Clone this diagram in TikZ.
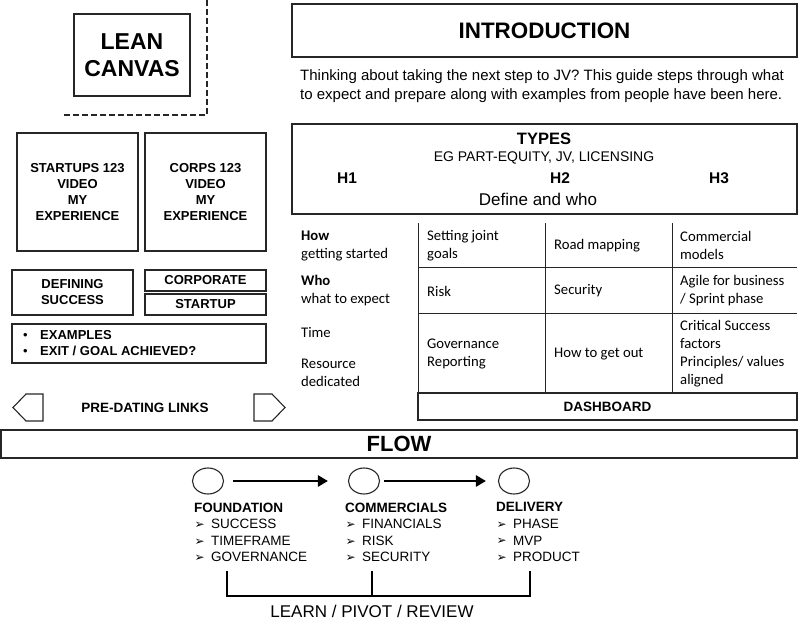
\documentclass[tikz,border=0pt]{standalone}
\usepackage{fontspec}
\setmainfont{Liberation Sans}
\newfontfamily\calfont{Carlito}
\newfontfamily\dingfont{DejaVu Sans}
\usetikzlibrary{arrows.meta,positioning,shapes.geometric}

\tikzset{
  box/.style={draw=black!85, line width=1.1pt, inner sep=0pt, align=center},
  capsbf/.style={font=\fontsize{13}{16}\selectfont\bfseries, align=center},
  cell/.style={font=\calfont\fontsize{14.7}{18}\selectfont, align=left, anchor=west, inner sep=0pt},
  flowcol/.style={font=\fontsize{13.5}{16.6}\selectfont, align=left, anchor=north west, inner sep=0pt},
  stage/.style={ellipse, draw=black!85, line width=1.1pt, minimum width=31pt, minimum height=26pt, inner sep=0pt},
  flowarrow/.style={line width=2.8pt, -{Triangle[length=10pt,width=11pt]}},
  bracket/.style={line width=2.4pt}
}
\newcommand{\arrbullet}{\makebox[17pt][l]{\hspace{0.5pt}\raisebox{0.3pt}{\dingfont\bfseries\fontsize{12}{10}\selectfont ➢}}}

\begin{document}
\begin{tikzpicture}[x=1pt, y=-1pt]
\useasboundingbox (0,0) rectangle (800,632);

% left column
\node[box, minimum width=116pt, minimum height=82pt, font=\fontsize{23}{27}\selectfont\bfseries] (lean) at (132,55) {LEAN\\CANVAS};
\draw[dash pattern=on 6pt off 3pt, line width=1.8pt, black!85] (207,0) -- (207,115) -- (64,115);

\node[box, capsbf, minimum width=121pt, minimum height=118pt] (startups) at (77.5,192) {STARTUPS 123\\VIDEO\\MY\\EXPERIENCE};
\node[box, capsbf, minimum width=121pt, minimum height=118pt] (corps) at (205.5,192) {CORPS 123\\VIDEO\\MY\\EXPERIENCE};

\node[box, capsbf, minimum width=121pt, minimum height=45pt] (defining) at (72.5,292.5) {DEFINING\\SUCCESS};
\node[box, capsbf, minimum width=121pt, minimum height=21pt] (corporate) at (205.5,280.5) {CORPORATE};
\node[box, capsbf, minimum width=121pt, minimum height=21pt] (startup) at (205.5,304.5) {STARTUP};

\node[box, minimum width=254pt, minimum height=39pt] (examples) at (139,343.5) {};
\node[capsbf, align=left, anchor=west, inner sep=0pt] (exampletext) at (23,343.5)
  {\makebox[17pt][l]{\mdseries•}EXAMPLES\\\makebox[17pt][l]{\mdseries•}EXIT / GOAL ACHIEVED?};

\draw[black!85, line width=1.1pt] (26,394) -- (43,394) -- (43,421) -- (26,421) -- (13,407.5) -- cycle;
\draw[black!85, line width=1.1pt] (254,394) -- (272,394) -- (285,407.5) -- (272,421) -- (254,421) -- cycle;
\node[capsbf, font=\fontsize{13.5}{16}\selectfont\bfseries] (predating) at (145,407.5) {PRE-DATING LINKS};

% right column
\node[box, minimum width=505pt, minimum height=53pt, font=\fontsize{22.4}{26}\selectfont\bfseries] (intro) at (544.5,30.5) {INTRODUCTION};
\node[anchor=west, align=left, inner sep=0pt, font=\fontsize{15}{19}\selectfont] (introtext) at (300,86.5)
  {Thinking about taking the next step to JV? This guide steps through what\\to expect and prepare along with examples from people have been here.};

\node[box, minimum width=505pt, minimum height=90pt] (types) at (544.5,169) {};
\node[font=\fontsize{16.5}{18}\selectfont\bfseries] (typestitle) at (544,139) {TYPES};
\node[font=\fontsize{14}{16}\selectfont] (typessub) at (544,158) {EG PART-EQUITY, JV, LICENSING};
\node[font=\fontsize{15.5}{18}\selectfont\bfseries] (h1) at (347,178.5) {H1};
\node[font=\fontsize{15.5}{18}\selectfont\bfseries] (h2) at (560,178.5) {H2};
\node[font=\fontsize{15.5}{18}\selectfont\bfseries] (h3) at (719,178.5) {H3};
\node[font=\fontsize{17}{19}\selectfont] (define) at (538,199) {Define and who};

% grid
\draw[black!85, line width=1pt] (418,223) -- (418,393);
\draw[black!85, line width=1pt] (545,223) -- (545,393);
\draw[black!85, line width=1pt] (672,223) -- (672,393);
\draw[black!85, line width=1pt] (418,267) -- (797,267);
\draw[black!85, line width=1pt] (418,313) -- (797,313);

\node[cell] (how) at (301,245.5) {\textbf{How}\\getting started};
\node[cell] (who) at (301,291) {\textbf{Who}\\what to expect};
\node[cell] (time) at (301,332) {Time};
\node[cell] (resource) at (301,373) {Resource\\dedicated};

\node[cell] (goals) at (427,245.5) {Setting joint\\goals};
\node[cell] (roadmap) at (554,245.5) {Road mapping};
\node[cell] (commercial) at (680,245.5) {Commercial\\models};
\node[cell] (risk) at (427,291) {Risk};
\node[cell] (security) at (554,291) {Security};
\node[cell] (agile) at (680,291) {Agile for business\\/ Sprint phase};
\node[cell] (governance) at (427,354) {Governance\\Reporting};
\node[cell] (getout) at (554,354) {How to get out};
\node[cell] (critical) at (680,354) {Critical Success\\factors\\Principles/ values\\aligned};

\node[box, capsbf, minimum width=379pt, minimum height=27pt, font=\fontsize{13.5}{16}\selectfont\bfseries] (dashboard) at (607.5,406.5) {DASHBOARD};

% flow
\node[box, minimum width=796pt, minimum height=28pt, font=\fontsize{22}{24}\selectfont\bfseries] (flow) at (399,444) {FLOW};

\node[stage] (s1) at (208,481) {};
\node[stage] (s2) at (364,481) {};
\node[stage] (s3) at (514,481) {};
\draw[flowarrow, shorten <=9pt, shorten >=20pt] (s1) -- (s2);
\draw[flowarrow, shorten <=4pt, shorten >=12pt] (s2) -- (s3);

\node[flowcol] (foundation) at (194,502.5) {\textbf{FOUNDATION}\\\arrbullet SUCCESS\\\arrbullet TIMEFRAME\\\arrbullet GOVERNANCE};
\node[flowcol] (commercials) at (345,502.5) {\textbf{COMMERCIALS}\\\arrbullet FINANCIALS\\\arrbullet RISK\\\arrbullet SECURITY};
\node[flowcol] (delivery) at (496,502.5) {\textbf{DELIVERY}\\\arrbullet PHASE\\\arrbullet MVP\\\arrbullet PRODUCT};

\coordinate (b1) at (227,571);
\coordinate (b2) at (372,571);
\coordinate (b3) at (530,571);
\draw[bracket] (b1) -- ++(0,25) -| (b3);
\draw[bracket] (b2) -- ++(0,25);

\node[font=\fontsize{17}{19}\selectfont] (learn) at (372,611) {LEARN / PIVOT / REVIEW};

\end{tikzpicture}
\end{document}
